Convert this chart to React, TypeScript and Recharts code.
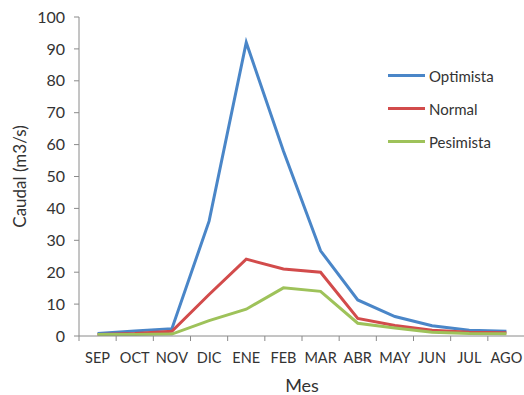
import { LineChart, Line, XAxis, YAxis, Legend } from 'recharts'

const meses = ['SEP', 'OCT', 'NOV', 'DIC', 'ENE', 'FEB', 'MAR', 'ABR', 'MAY', 'JUN', 'JUL', 'AGO']
const optimista = [0.8, 1.6, 2.3, 36, 92, 58, 26.7, 11.3, 6.1, 3.2, 1.8, 1.5]
const normal = [0.5, 0.8, 1.5, 13, 24.1, 21, 20, 5.5, 3.3, 1.8, 1.2, 1.0]
const pesimista = [0.5, 0.5, 0.6, 4.8, 8.4, 15.1, 14, 4, 2.5, 1.2, 0.8, 0.7]
const yTicks = [0, 10, 20, 30, 40, 50, 60, 70, 80, 90, 100]

const series = [
  { key: 'optimista', name: 'Optimista', color: '#4A86C8' },
  { key: 'normal', name: 'Normal', color: '#D24B4B' },
  { key: 'pesimista', name: 'Pesimista', color: '#9EC25A' },
]

// each month sits in the middle of its slot, tick marks go on slot edges
const data = meses.map((mes, i) => ({
  mes,
  pos: i + 0.5,
  optimista: optimista[i],
  normal: normal[i],
  pesimista: pesimista[i],
}))

const xTicks = Array.from({ length: 25 }, (_, i) => i / 2)

const font = 'Lato, "Open Sans", sans-serif'
const axisColor = '#8A8A8A'
const textColor = '#333'

function MonthTick(props: any) {
  const { x, y, payload } = props
  const v = payload.value
  if (Number.isInteger(v)) {
    return <line x1={x} x2={x} y1={y} y2={y + 5} stroke={axisColor} />
  }
  return (
    <text x={x} y={y} dy={26.5} textAnchor="middle" fill={textColor} fontSize={14.5} fontFamily={font}>
      {meses[Math.floor(v)]}
    </text>
  )
}

function LegendBox() {
  return (
    <div style={{ fontFamily: font, fontSize: 15, color: textColor }}>
      {series.map((s) => (
        <div key={s.key} style={{ display: 'flex', alignItems: 'center', height: 33 }}>
          <div style={{ width: 37, height: 3, background: s.color, marginRight: 4 }} />
          <span>{s.name}</span>
        </div>
      ))}
    </div>
  )
}

export default function App() {
  return (
    <div style={{ position: 'fixed', top: 0, left: 0, width: 524, height: 395, overflow: 'hidden', background: '#fff' }}>
      <LineChart width={540} height={395} data={data} margin={{ top: 17, right: 15, bottom: 0, left: 0 }}>
        <XAxis
          dataKey="pos"
          type="number"
          domain={[0, 12]}
          ticks={xTicks}
          interval={0}
          tickLine={false}
          tickSize={0}
          tickMargin={0}
          tick={<MonthTick />}
          height={59}
          stroke={axisColor}
          label={{ value: 'Mes', position: 'insideBottom', offset: 3, fill: textColor, fontSize: 18, fontFamily: font }}
        />
        <YAxis
          domain={[0, 100]}
          ticks={yTicks}
          interval={0}
          width={79}
          tickSize={5}
          tickMargin={9}
          stroke={axisColor}
          tick={{ fill: textColor, fontSize: 16, fontFamily: font }}
          label={{
            value: 'Caudal (m3/s)',
            angle: -90,
            position: 'insideLeft',
            offset: 20,
            textAnchor: 'middle',
            fill: textColor,
            fontSize: 17,
            fontFamily: font,
          }}
        />
        {/* centred + middle keeps the legend from shrinking the plot area */}
        <Legend
          layout="horizontal"
          verticalAlign="middle"
          align="center"
          content={<LegendBox />}
          wrapperStyle={{ top: 59, left: 388, width: 130 }}
        />
        {series.map((s) => (
          <Line
            key={s.key}
            dataKey={s.key}
            name={s.name}
            stroke={s.color}
            strokeWidth={3}
            dot={false}
            isAnimationActive={false}
          />
        ))}
      </LineChart>
    </div>
  )
}
